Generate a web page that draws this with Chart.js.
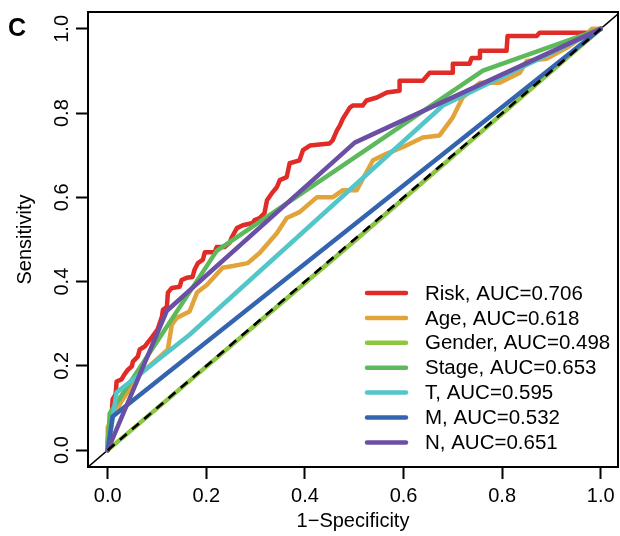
<!DOCTYPE html>
<html>
<head>
<meta charset="utf-8">
<script src="https://cdn.jsdelivr.net/npm/chart.js@4.4.1/dist/chart.umd.min.js"></script>
<style>
html,body{margin:0;padding:0;background:#fff;}
#wrap{width:620px;height:536px;}
</style>
</head>
<body>
<div id="wrap"><canvas id="c" width="620" height="536"></canvas></div>
<script>
// ---- data ----
const seriesNames = ['Risk', 'Age', 'Gender', 'Stage', 'T', 'M', 'N'];
const aucValues = ['0.706', '0.618', '0.498', '0.653', '0.595', '0.532', '0.651'];
const seriesColors = ['#E02B27', '#E2A43A', '#8DC641', '#5DB95B', '#52C6C9', '#3464AF', '#6A4FA5'];
const tickVals = [0, 0.2, 0.4, 0.6, 0.8, 1.0];

const riskX = [0,0,0.004,0.008,0.010,0.016,0.018,0.028,0.034,0.041,0.049,0.051,0.061,0.065,0.075,0.081,0.091,0.101,0.110,0.112,0.120,0.122,0.130,0.146,0.150,0.160,0.172,0.176,0.183,0.193,0.197,0.217,0.221,0.237,0.247,0.252,0.262,0.274,0.294,0.298,0.308,0.318,0.323,0.333,0.343,0.349,0.363,0.369,0.389,0.396,0.410,0.450,0.456,0.465,0.471,0.477,0.491,0.497,0.517,0.525,0.546,0.566,0.592,0.592,0.639,0.653,0.700,0.700,0.734,0.738,0.755,0.755,0.809,0.811,0.870,0.876,0.984,1.0];
const riskY = [0,0.026,0.050,0.085,0.121,0.132,0.163,0.168,0.180,0.191,0.199,0.210,0.222,0.239,0.246,0.255,0.270,0.286,0.317,0.333,0.340,0.374,0.385,0.388,0.404,0.409,0.411,0.428,0.444,0.452,0.470,0.470,0.482,0.482,0.492,0.506,0.527,0.534,0.539,0.546,0.551,0.563,0.593,0.610,0.624,0.641,0.648,0.681,0.688,0.712,0.723,0.728,0.735,0.759,0.771,0.787,0.813,0.818,0.818,0.830,0.837,0.849,0.853,0.877,0.877,0.896,0.896,0.917,0.917,0.931,0.931,0.948,0.948,0.983,0.983,0.991,0.991,1.0];

const ageX = [0,0,0.010,0.028,0.065,0.099,0.122,0.130,0.140,0.166,0.181,0.201,0.233,0.254,0.284,0.308,0.343,0.363,0.389,0.424,0.456,0.477,0.505,0.538,0.566,0.598,0.639,0.673,0.700,0.720,0.755,0.795,0.836,0.850,0.890,0.931,0.972,0.982,1];
const ageY = [0,0.054,0.078,0.116,0.180,0.215,0.239,0.298,0.314,0.329,0.374,0.392,0.433,0.437,0.444,0.468,0.515,0.551,0.565,0.600,0.600,0.617,0.617,0.688,0.704,0.719,0.742,0.747,0.790,0.837,0.872,0.872,0.896,0.924,0.929,0.955,0.988,1.0,1];

const genderX = [0, 0.5, 1];
const genderY = [0, 0.496, 1];

const stageX = [0, 0.004, 0.221, 0.761, 1];
const stageY = [0, 0.087, 0.473, 0.901, 1];

const tX = [0, 0.018, 0.166, 0.680, 1];
const tY = [0, 0.137, 0.274, 0.818, 1];

const mX = [0, 0.010, 1];
const mY = [0, 0.080, 1];

const nX = [0, 0.120, 0.501, 1];
const nY = [0, 0.331, 0.730, 1];

const refX = [0, 1];
const refY = [0, 1];
const fullDiagX = [-0.04, 1.04];
const fullDiagY = [-0.04, 1.04];

// ---- build ----
const xs = [riskX, ageX, genderX, stageX, tX, mX, nX];
const ys = [riskY, ageY, genderY, stageY, tY, mY, nY];
const pts = (a, b) => a.map((v, i) => ({x: v, y: b[i]}));

const datasets = [];
datasets.push({
  label: '_diagFull', data: pts(fullDiagX, fullDiagY), borderColor: '#000',
  borderWidth: 1.5, showLine: true, pointRadius: 0, order: 20
});
seriesNames.forEach((n, i) => {
  datasets.push({
    label: n + ', AUC=' + aucValues[i],
    data: pts(xs[i], ys[i]),
    borderColor: seriesColors[i],
    backgroundColor: seriesColors[i],
    borderWidth: 4.5,
    showLine: true,
    pointRadius: 0,
    tension: 0,
    borderJoinStyle: 'round',
    borderCapStyle: 'round',
    order: 10 - i,
    isSeries: true
  });
});
datasets.push({
  label: '_ref', data: pts(refX, refY), borderColor: '#000',
  borderWidth: 2.6, borderDash: [9, 7], showLine: true, pointRadius: 0, order: 0
});

const FONT = 'Liberation Sans, Arial, sans-serif';

const deco = {
  id: 'deco',
  afterDraw(chart) {
    const {ctx, chartArea: a} = chart;
    ctx.save();
    ctx.strokeStyle = '#000';
    ctx.lineWidth = 2;
    ctx.strokeRect(a.left, a.top, a.right - a.left, a.bottom - a.top);

    // legend
    const series = chart.data.datasets.filter(d => d.isSeries);
    ctx.font = '20.5px ' + FONT;
    ctx.textBaseline = 'middle';
    ctx.textAlign = 'left';
    series.forEach((d, i) => {
      const y = a.bottom - 174 + i * 24.9;
      ctx.strokeStyle = d.borderColor;
      ctx.lineWidth = 4.5;
      ctx.lineCap = 'round';
      ctx.beginPath();
      ctx.moveTo(a.right - 251, y);
      ctx.lineTo(a.right - 212, y);
      ctx.stroke();
      ctx.fillStyle = '#000';
      ctx.fillText(d.label, a.right - 193, y + 1);
    });

    // panel letter
    ctx.font = 'bold 25px ' + FONT;
    ctx.fillStyle = '#000';
    ctx.textBaseline = 'middle';
    ctx.fillText('C', 8, 29);
    ctx.restore();
  }
};

const setTicks = s => { s.ticks = tickVals.map(v => ({value: v})); };

new Chart(document.getElementById('c'), {
  type: 'scatter',
  data: {datasets},
  options: {
    responsive: false,
    animation: false,
    devicePixelRatio: 1,
    layout: {padding: {top: 10, right: 2, left: 0, bottom: 0}},
    plugins: {legend: {display: false}, tooltip: {enabled: false}},
    scales: {
      x: {
        type: 'linear', min: -0.04, max: 1.035,
        afterBuildTicks: setTicks,
        afterFit: s => { s.height = 69; },
        border: {display: false},
        grid: {display: true, drawOnChartArea: false, drawTicks: true, tickLength: 12, tickWidth: 2, tickColor: '#000'},
        ticks: {color: '#000', font: {family: FONT, size: 20}, padding: 5, autoSkip: false, maxRotation: 0, callback: v => v.toFixed(1)},
        title: {display: true, text: '1−Specificity', color: '#000', font: {family: FONT, size: 20}, padding: {top: 0, bottom: 3}}
      },
      y: {
        type: 'linear', min: -0.04, max: 1.04,
        afterBuildTicks: setTicks,
        afterFit: s => { s.width = 88; },
        border: {display: false},
        grid: {display: true, drawOnChartArea: false, drawTicks: true, tickLength: 12, tickWidth: 2, tickColor: '#000'},
        ticks: {color: '#000', font: {family: FONT, size: 20}, padding: 0, autoSkip: false, minRotation: 90, maxRotation: 90, crossAlign: 'center', callback: v => v.toFixed(1)},
        title: {display: true, text: 'Sensitivity', color: '#000', font: {family: FONT, size: 20}, padding: {top: 13, bottom: 0}}
      }
    }
  },
  plugins: [deco]
});
</script>
</body>
</html>
